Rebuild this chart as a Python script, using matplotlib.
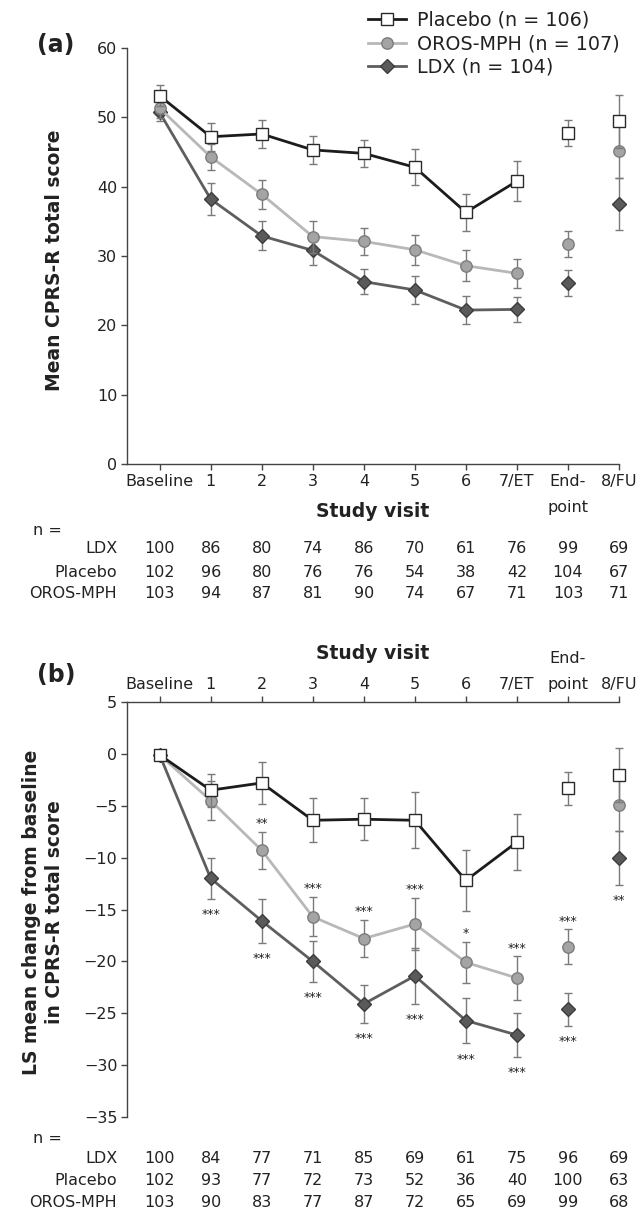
import matplotlib
matplotlib.use("Agg")
import matplotlib.pyplot as plt
import numpy as np

plt.rcParams['font.family'] = ['DejaVu Sans']

# --------- DATA ---------
visits = ['Baseline', '1', '2', '3', '4', '5', '6', '7/ET', 'End-\npoint', '8/FU']

# panel (a): mean CPRS-R total score
placebo_a = [53.1, 47.2, 47.6, 45.3, 44.8, 42.8, 36.3, 40.8, 47.7, 49.4]
placebo_a_err = [1.5, 2.0, 2.0, 2.0, 2.0, 2.6, 2.7, 2.9, 1.9, 3.8]
oros_a = [51.3, 44.3, 38.9, 32.8, 32.1, 30.9, 28.6, 27.5, 31.7, 45.1]
oros_a_err = [1.4, 1.9, 2.1, 2.3, 1.9, 2.2, 2.2, 2.1, 1.9, 3.8]
ldx_a = [50.7, 38.2, 32.9, 30.8, 26.3, 25.1, 22.2, 22.3, 26.1, 37.5]
ldx_a_err = [1.2, 2.3, 2.1, 2.1, 1.8, 2.0, 2.0, 1.8, 1.9, 3.8]

# panel (b): LS mean change from baseline
placebo_b = [-0.1, -3.5, -2.8, -6.4, -6.3, -6.4, -12.2, -8.5, -3.3, -2.0]
placebo_b_err = [0, 1.6, 2.0, 2.1, 2.0, 2.7, 2.9, 2.7, 1.6, 2.6]
oros_b = [-0.1, -4.5, -9.3, -15.7, -17.8, -16.4, -20.1, -21.6, -18.6, -4.9]
oros_b_err = [0, 1.9, 1.8, 1.9, 1.8, 2.5, 2.0, 2.1, 1.7, 2.5]
ldx_b = [-0.1, -12.0, -16.1, -20.0, -24.1, -21.4, -25.7, -27.1, -24.6, -10.0]
ldx_b_err = [0, 2.0, 2.1, 2.0, 1.8, 2.7, 2.2, 2.1, 1.6, 2.6]

oros_sig = ['', '', '**', '***', '***', '***', '*', '***', '***', '']
ldx_sig = ['', '***', '***', '***', '***', '***', '***', '***', '***', '**']

# n per visit
n_a_ldx = [100, 86, 80, 74, 86, 70, 61, 76, 99, 69]
n_a_pbo = [102, 96, 80, 76, 76, 54, 38, 42, 104, 67]
n_a_oros = [103, 94, 87, 81, 90, 74, 67, 71, 103, 71]
n_b_ldx = [100, 84, 77, 71, 85, 69, 61, 75, 96, 69]
n_b_pbo = [102, 93, 77, 72, 73, 52, 36, 40, 100, 63]
n_b_oros = [103, 90, 83, 77, 87, 72, 65, 69, 99, 68]

labels = ['Placebo (n = 106)', 'OROS-MPH (n = 107)', 'LDX (n = 104)']

# --------- STYLE ---------
TXT = '#222222'
AX = '#444444'
ERR = '#7a7a7a'
styles = {
    'ldx': dict(color='#5e5e5e', marker='D', ms=6.8, mfc='#5a5a5a', mec='#3c3c3c', lw=2.0),
    'oros': dict(color='#b8b8b8', marker='o', ms=8.2, mfc='#a4a4a4', mec='#7c7c7c', lw=2.0),
    'pbo': dict(color='#1c1c1c', marker='s', ms=8.0, mfc='white', mec='#2a2a2a', lw=2.0),
}
TICK_FS = 11.5
x = np.arange(len(visits))
n_line = 8  # baseline .. 7/ET are connected

fig = plt.figure(figsize=(6.44, 12.11), dpi=100)
W, H = 644, 1211


def px_axes(left, top, right, bottom):
    return fig.add_axes([left / W, 1 - bottom / H, (right - left) / W, (bottom - top) / H])


def draw_series(ax, vals, errs, key, z):
    st = styles[key]
    vals = np.array(vals)
    eb = ax.errorbar(x, vals, yerr=errs, fmt='none', ecolor=ERR, elinewidth=1.0,
                     capsize=3, capthick=1.0, zorder=z)
    for art in eb.lines[1] + eb.lines[2]:
        art.set_clip_on(False)
    line, = ax.plot(x[:n_line], vals[:n_line], color=st['color'], lw=st['lw'],
                    marker=st['marker'], ms=st['ms'], mfc=st['mfc'], mec=st['mec'],
                    mew=1.0, zorder=z + 1, clip_on=False)
    ax.plot(x[n_line:], vals[n_line:], ls='none', marker=st['marker'], ms=st['ms'],
            mfc=st['mfc'], mec=st['mec'], mew=1.0, zorder=z + 1, clip_on=False)
    return line


def style_axes(ax):
    ax.set_xlim(-0.64, 9)
    ax.set_xticks(x)
    ax.set_xticklabels(visits)
    ax.spines['right'].set_visible(False)
    for s in ax.spines.values():
        s.set_color(AX)
        s.set_linewidth(1.0)
    ax.tick_params(axis='both', direction='out', length=4.5, width=1.0, color=AX,
                   labelsize=TICK_FS, labelcolor=TXT)
    ax.tick_params(axis='x', pad=3)
    ax.tick_params(axis='y', pad=2.5)
    for lbl in ax.get_xticklabels():
        lbl.set_linespacing(1.9)


def n_table(ax, rows, y_n, ys):
    ax.text(-0.132, y_n, 'n =', transform=ax.transAxes, ha='right', va='center',
            fontsize=TICK_FS, color=TXT)
    trans = ax.get_xaxis_transform()
    for (name, vals), yy in zip(rows, ys):
        ax.text(-0.02, yy, name, transform=ax.transAxes, ha='right', va='center',
                fontsize=TICK_FS, color=TXT)
        for xi, v in zip(x, vals):
            ax.text(xi, yy, str(v), transform=trans, ha='center', va='center',
                    fontsize=TICK_FS, color=TXT)


# --------- PANEL (a) ---------
ax1 = px_axes(127, 48, 619, 464)
l_ldx = draw_series(ax1, ldx_a, ldx_a_err, 'ldx', 2)
l_oros = draw_series(ax1, oros_a, oros_a_err, 'oros', 4)
l_pbo = draw_series(ax1, placebo_a, placebo_a_err, 'pbo', 6)
ax1.set_ylim(0, 60)
ax1.set_yticks(np.arange(0, 61, 10))
ax1.spines['top'].set_visible(False)
style_axes(ax1)
ax1.text(0.5, -0.115, 'Study visit', transform=ax1.transAxes, ha='center', va='center',
         fontsize=13.5, fontweight='bold', color=TXT)
ax1.text(-0.148, 0.49, 'Mean CPRS-R total score', transform=ax1.transAxes, rotation=90,
         ha='center', va='center', fontsize=13.5, fontweight='bold', color=TXT)
fig.text(56 / W, 1 - 45 / H, '(a)', ha='center', va='center', fontsize=17,
         fontweight='bold', color=TXT)
n_table(ax1, [('LDX', n_a_ldx), ('Placebo', n_a_pbo), ('OROS-MPH', n_a_oros)],
        -0.159, [-0.204, -0.260, -0.3125])

fig.legend([l_pbo, l_oros, l_ldx], labels, loc='upper left',
           bbox_to_anchor=(368 / W, 1 - 11 / H), frameon=False, fontsize=13.8,
           handlelength=2.0, handletextpad=0.55, labelspacing=0.22, borderpad=0,
           borderaxespad=0, numpoints=1, labelcolor=TXT)

# --------- PANEL (b) ---------
ax2 = px_axes(127, 702, 619, 1117)
draw_series(ax2, ldx_b, ldx_b_err, 'ldx', 2)
draw_series(ax2, oros_b, oros_b_err, 'oros', 4)
draw_series(ax2, placebo_b, placebo_b_err, 'pbo', 6)
ax2.set_ylim(-35, 5)
ax2.set_yticks(np.arange(-35, 6, 5))
ax2.spines['bottom'].set_visible(False)
ax2.xaxis.tick_top()
style_axes(ax2)
ax2.text(0.5, 1.118, 'Study visit', transform=ax2.transAxes, ha='center', va='center',
         fontsize=13.5, fontweight='bold', color=TXT)
ax2.text(-0.17, 0.494, 'LS mean change from baseline\nin CPRS-R total score',
         transform=ax2.transAxes, rotation=90, ha='center', va='center',
         fontsize=13.5, fontweight='bold', color=TXT, linespacing=1.25)
fig.text(56 / W, 1 - 675 / H, '(b)', ha='center', va='center', fontsize=17,
         fontweight='bold', color=TXT)

# significance markers (glyph sits high in the em box, hence baseline shift)
gap = 1.15
for xi, v, e, s in zip(x, oros_b, oros_b_err, oros_sig):
    if s:
        ax2.text(xi, v + e + gap - 0.7, s, ha='center', va='baseline', fontsize=9,
                 color=TXT)
for xi, v, e, s in zip(x, ldx_b, ldx_b_err, ldx_sig):
    if s:
        ax2.text(xi, v - e - gap - 0.7, s, ha='center', va='baseline', fontsize=9,
                 color=TXT)

n_table(ax2, [('LDX', n_b_ldx), ('Placebo', n_b_pbo), ('OROS-MPH', n_b_oros)],
        -0.053, [-0.101, -0.152, -0.205])

fig.savefig('out.png', dpi=100, facecolor='white')
